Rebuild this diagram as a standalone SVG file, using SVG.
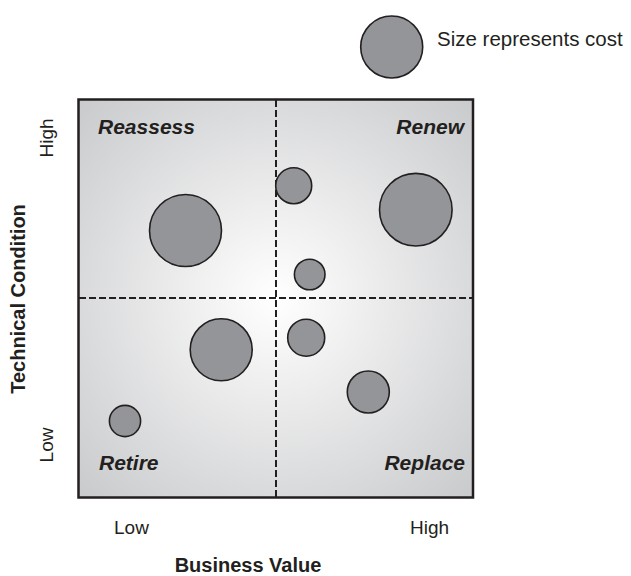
<svg xmlns="http://www.w3.org/2000/svg" width="631" height="576" viewBox="0 0 631 576">
<style>
.bubble{fill:#939598;stroke:#231f20;stroke-width:1.6}
.quad{font-family:"Liberation Sans",Arial,sans-serif;font-size:21px;font-weight:bold;font-style:italic;fill:#231f20}
.axis{font-family:"Liberation Sans",Arial,sans-serif;font-size:19px;fill:#231f20}
.title{font-family:"Liberation Sans",Arial,sans-serif;font-size:20px;font-weight:bold;fill:#231f20}
.dash{stroke:#231f20;stroke-width:2;stroke-dasharray:7,3;fill:none}
</style>
<defs>
<radialGradient id="bg" gradientUnits="userSpaceOnUse" cx="276" cy="298" r="285">
<stop offset="0" stop-color="#ffffff"/>
<stop offset="1" stop-color="#c8c9cb"/>
</radialGradient>
</defs>
<rect width="631" height="576" fill="#ffffff"/>
<g id="chart">
<rect x="78.5" y="99.5" width="394.5" height="398" fill="url(#bg)" stroke="#231f20" stroke-width="2.5"/>
</g>
<g id="connectors">
<line class="dash" x1="276" y1="100" x2="276" y2="497"/>
<line class="dash" x1="79" y1="298" x2="472" y2="298"/>
</g>
<g id="quadrant-labels">
<text class="quad" x="98" y="134">Reassess</text>
<text class="quad" x="464" y="134" text-anchor="end">Renew</text>
<text class="quad" x="99" y="470">Retire</text>
<text class="quad" x="465" y="470" text-anchor="end">Replace</text>
</g>
<g id="bubbles">
<circle id="b1" class="bubble" cx="185.5" cy="230.5" r="36"/>
<circle id="b2" class="bubble" cx="293.7" cy="185.7" r="18"/>
<circle id="b3" class="bubble" cx="415.8" cy="209.7" r="36.3"/>
<circle id="b4" class="bubble" cx="309.7" cy="274.5" r="15.3"/>
<circle id="b5" class="bubble" cx="221.2" cy="349.8" r="31"/>
<circle id="b6" class="bubble" cx="306.2" cy="337.7" r="18.5"/>
<circle id="b7" class="bubble" cx="368.3" cy="392" r="21"/>
<circle id="b8" class="bubble" cx="125" cy="421" r="15.6"/>
</g>
<g id="legend">
<circle class="bubble" cx="391.7" cy="47" r="31"/>
<text x="437" y="46" font-family="'Liberation Sans',Arial,sans-serif" font-size="20.5" fill="#231f20">Size represents cost</text>
</g>
<g id="axes">
<text class="axis" transform="translate(53,138) rotate(-90)" text-anchor="middle">High</text>
<text class="axis" transform="translate(53,445) rotate(-90)" text-anchor="middle">Low</text>
<text class="title" transform="translate(25,299) rotate(-90)" text-anchor="middle">Technical Condition</text>
<text class="axis" x="114" y="534">Low</text>
<text class="axis" x="410" y="534">High</text>
<text class="title" x="248" y="572" text-anchor="middle">Business Value</text>
</g>
</svg>
